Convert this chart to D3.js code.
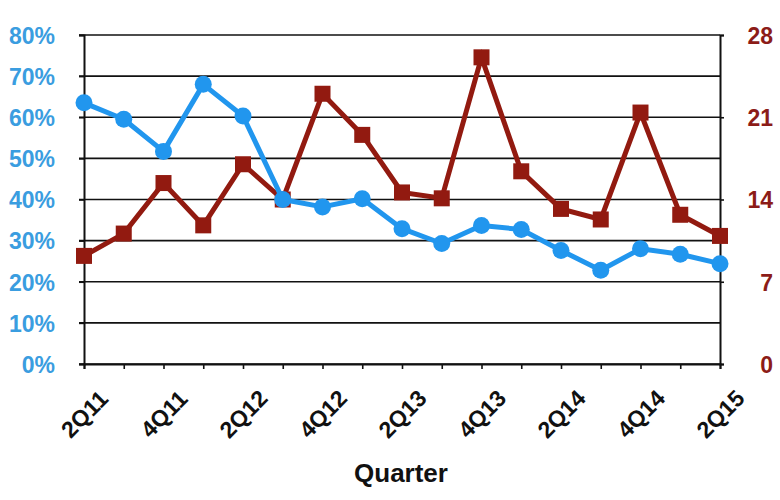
<!DOCTYPE html>
<html><head><meta charset="utf-8">
<script src="https://cdn.jsdelivr.net/npm/d3@7"></script>
<style>body{margin:0;background:#fff}svg{display:block}text{font-family:"Liberation Sans",Arial,sans-serif;font-weight:bold}</style>
</head><body><svg id="c" width="780" height="500"></svg>
<script>
const quarters = ["2Q11","3Q11","4Q11","1Q12","2Q12","3Q12","4Q12","1Q13","2Q13","3Q13","4Q13","1Q14","2Q14","3Q14","4Q14","1Q15","2Q15"];
const shareValues = [63.5,59.5,51.7,68,60.3,40,38.2,40.2,32.9,29.3,33.7,32.7,27.6,22.8,28,26.7,24.4];
const unitValues = [9.2,11.1,15.4,11.8,17.0,14.0,23.0,19.5,14.6,14.1,26.1,16.4,13.2,12.3,21.4,12.7,10.9];
const leftTicks = [0,10,20,30,40,50,60,70,80];
const rightTicks = [0,7,14,21,28];
const xLabels = ["2Q11","4Q11","2Q12","4Q12","2Q13","4Q13","2Q14","4Q14","2Q15"];

const svg = d3.select("#c");
const L=84,R=720,T=35,B=364;
const blue="#2196ee", red="#921a10", blueTxt="#3a9de0", redTxt="#8c1c18";
const x = d3.scalePoint().domain(quarters).range([L,R]);
const yL = d3.scaleLinear().domain([0,80]).range([B,T]);
const yR = d3.scaleLinear().domain([0,28]).range([B,T]);

// gridlines
svg.append("g").selectAll("line").data(leftTicks).join("line")
  .attr("x1",L-5).attr("x2",R).attr("y1",d=>yL(d)).attr("y2",d=>yL(d))
  .attr("stroke","#111").attr("stroke-width",1.6);

// left axis
const ga = svg.append("g").attr("transform",`translate(${L},0)`)
  .call(d3.axisLeft(yL).tickValues(leftTicks).tickFormat(d=>d+"%").tickSize(5).tickPadding(24));
ga.select(".domain").attr("stroke","#111").attr("stroke-width",2);
ga.selectAll(".tick line").attr("stroke","#111").attr("stroke-width",1.6);
ga.selectAll("text").attr("fill",blueTxt).attr("font-size",23).attr("dy","0.36em");

// right axis
const gr = svg.append("g").attr("transform",`translate(${R},0)`)
  .call(d3.axisRight(yR).tickValues(rightTicks).tickSize(4));
gr.select(".domain").attr("stroke","#111").attr("stroke-width",2);
gr.selectAll(".tick line").attr("stroke","#111").attr("stroke-width",1.6);
gr.selectAll("text").attr("fill",redTxt).attr("font-size",23).attr("text-anchor","end").attr("x",53).attr("dy","0.36em");

// bottom axis
const gb = svg.append("g").attr("transform",`translate(0,${B})`)
  .call(d3.axisBottom(x).tickSize(5).tickFormat(d=>xLabels.includes(d)?d:""));
gb.select(".domain").attr("stroke","#111").attr("stroke-width",2);
gb.selectAll(".tick line").attr("stroke","#111").attr("stroke-width",1.6);
gb.selectAll("text").attr("fill","#111").attr("font-size",23)
  .attr("text-anchor","middle").attr("y",0).attr("dy","0.35em")
  .attr("transform","translate(0,50) rotate(-45)");

// red series
svg.append("path").datum(unitValues)
  .attr("d",d3.line().x((d,i)=>x(quarters[i])).y(d=>yR(d)))
  .attr("fill","none").attr("stroke",red).attr("stroke-width",5).attr("stroke-linejoin","miter");
svg.append("g").selectAll("rect").data(unitValues).join("rect")
  .attr("x",(d,i)=>x(quarters[i])-8).attr("y",d=>yR(d)-8).attr("width",16).attr("height",16)
  .attr("fill",red);

// blue series
svg.append("path").datum(shareValues)
  .attr("d",d3.line().x((d,i)=>x(quarters[i])).y(d=>yL(d)))
  .attr("fill","none").attr("stroke",blue).attr("stroke-width",5).attr("stroke-linejoin","round");
svg.append("g").selectAll("circle").data(shareValues).join("circle")
  .attr("cx",(d,i)=>x(quarters[i])).attr("cy",d=>yL(d)).attr("r",8.5).attr("fill",blue);

// axis title
svg.append("text").attr("x",401).attr("y",482).attr("text-anchor","middle")
  .attr("font-size",26).attr("fill","#111").text("Quarter");
</script></body></html>
